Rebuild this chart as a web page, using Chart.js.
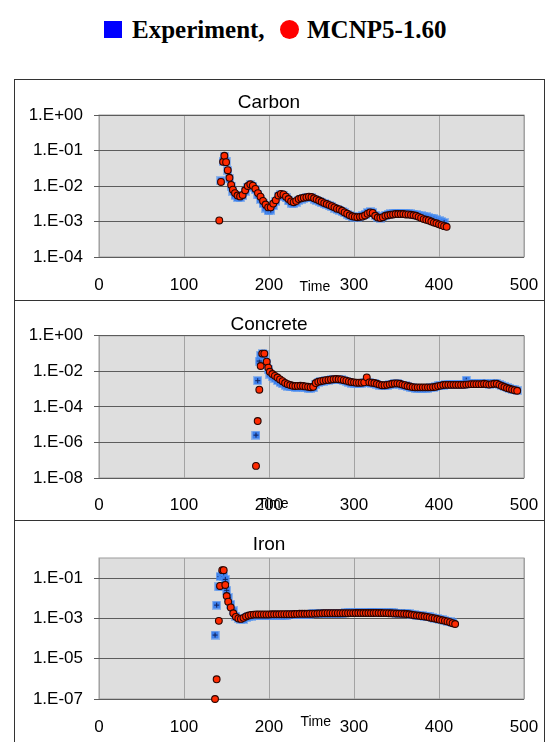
<!DOCTYPE html>
<html>
<head>
<meta charset="utf-8">
<script src="https://cdn.jsdelivr.net/npm/chart.js@4.4.1/dist/chart.umd.min.js"></script>
<style>
    body { margin: 0; width: 549px; height: 742px; background: #fff; overflow: hidden; position: relative; }
    .legend-text { position: absolute; font: bold 25px "Liberation Serif", "Times New Roman", serif; line-height: 25px; color: #000; white-space: nowrap; }
    .panel { position: absolute; left: 14px; width: 531px; border: 1px solid #333; box-sizing: border-box; }
    canvas { position: absolute; left: 14px; }
</style>
</head>
<body>
<div style="position:absolute;left:104px;top:21px;width:18px;height:17px;background:#0000ff"></div>
<div class="legend-text" style="left:132px;top:17px">Experiment,</div>
<div style="position:absolute;left:280px;top:20px;width:19px;height:19px;border-radius:50%;background:#ff0000"></div>
<div class="legend-text" style="left:307px;top:17px">MCNP5-1.60</div>

<div class="panel" style="top:79px;height:222px"></div>
<div class="panel" style="top:300px;height:221px"></div>
<div class="panel" style="top:520px;height:240px"></div>

<canvas id="carbon" width="531" height="221" style="top:79px"></canvas>
<canvas id="concrete" width="531" height="220" style="top:300px"></canvas>
<canvas id="iron" width="531" height="222" style="top:520px"></canvas>

<script>
const FONT = '"Liberation Sans", Arial, sans-serif';

// ---- Carbon ----
const carbonTime = [141.5, 143.5, 146, 147.5, 149.5, 151.5, 153.5, 155.5, 157.5,
    160, 163, 166, 169, 172, 175, 178, 181, 184, 187,
    190, 193, 196, 199, 202, 205, 208, 211, 214, 217,
    220, 223, 226, 229, 232, 235, 238, 241, 244, 247,
    250, 253, 256, 259, 262, 265, 268, 271, 274, 277,
    280, 283, 286, 289, 292, 295, 298, 301, 304, 307,
    310, 313, 316, 319, 322, 325, 328, 331, 334, 337,
    340, 343, 346, 349, 352, 355, 358, 361, 364, 367,
    370, 373, 376, 379, 382, 385, 388, 391, 394, 397,
    400, 403, 406, 409];
const carbonMcnp = [1.07e-3, 1.3e-2, 4.8e-2, 7.1e-2, 4.7e-2, 2.8e-2, 1.7e-2, 1.07e-2, 7.9e-3,
    6.3e-3, 5.4e-3, 5.1e-3, 5.6e-3, 7.6e-3, 1.0e-2, 1.12e-2, 1.02e-2, 8.3e-3, 6.3e-3,
    5.0e-3, 3.8e-3, 3.0e-3, 2.5e-3, 2.5e-3, 3.2e-3, 4.0e-3, 5.4e-3, 6.0e-3, 5.8e-3,
    5.0e-3, 4.3e-3, 3.7e-3, 3.5e-3, 3.8e-3, 4.3e-3, 4.5e-3, 4.7e-3, 4.8e-3, 5.0e-3,
    4.9e-3, 4.5e-3, 4.2e-3, 3.9e-3, 3.6e-3, 3.3e-3, 3.1e-3, 2.9e-3, 2.7e-3, 2.5e-3,
    2.3e-3, 2.2e-3, 2.0e-3, 1.8e-3, 1.66e-3, 1.5e-3, 1.4e-3, 1.35e-3, 1.32e-3, 1.35e-3,
    1.38e-3, 1.48e-3, 1.66e-3, 1.8e-3, 1.74e-3, 1.45e-3, 1.29e-3, 1.26e-3, 1.32e-3, 1.45e-3,
    1.5e-3, 1.55e-3, 1.58e-3, 1.62e-3, 1.62e-3, 1.62e-3, 1.62e-3, 1.58e-3, 1.58e-3, 1.55e-3,
    1.5e-3, 1.45e-3, 1.35e-3, 1.26e-3, 1.17e-3, 1.12e-3, 1.07e-3, 1.0e-3, 9.3e-4, 8.9e-4,
    8.3e-4, 7.9e-4, 7.4e-4, 7.1e-4];
const carbonExp = [null, 1.4e-2, 5.0e-2, 6.6e-2, 5.0e-2, 2.8e-2, 1.6e-2, 1.0e-2, 7.1e-3,
    5.5e-3, 4.7e-3, 4.7e-3, 5.4e-3, 7.1e-3, 9.3e-3, 1.07e-2, 1.0e-2, 7.9e-3, 5.6e-3,
    4.2e-3, 3.2e-3, 2.4e-3, 2.0e-3, 2.1e-3, 2.8e-3, 3.7e-3, 5.0e-3, 5.6e-3, 5.4e-3,
    4.6e-3, 3.8e-3, 3.3e-3, 3.2e-3, 3.5e-3, 4.0e-3, 4.3e-3, 4.5e-3, 4.6e-3, 4.8e-3,
    4.7e-3, 4.3e-3, 4.0e-3, 3.7e-3, 3.4e-3, 3.2e-3, 3.0e-3, 2.8e-3, 2.6e-3, 2.4e-3,
    2.2e-3, 2.1e-3, 1.9e-3, 1.75e-3, 1.6e-3, 1.45e-3, 1.35e-3, 1.3e-3, 1.3e-3, 1.35e-3,
    1.45e-3, 1.6e-3, 1.8e-3, 1.9e-3, 1.8e-3, 1.5e-3, 1.3e-3, 1.25e-3, 1.35e-3, 1.5e-3,
    1.6e-3, 1.65e-3, 1.7e-3, 1.72e-3, 1.72e-3, 1.72e-3, 1.7e-3, 1.7e-3, 1.68e-3, 1.65e-3,
    1.62e-3, 1.58e-3, 1.5e-3, 1.45e-3, 1.4e-3, 1.35e-3, 1.3e-3, 1.25e-3, 1.2e-3, 1.12e-3,
    1.05e-3, 1.0e-3, 9.3e-4, null];
const carbonTicks = [1e-4, 1e-3, 1e-2, 1e-1, 1];

// ---- Concrete ----
const concreteTime = [184.7, 186.7, 188.6, 190.2, 192, 194.5, 197.3, 199.2, 201,
    204, 207, 210, 213, 216, 219, 222, 225, 228, 231,
    234, 237, 240, 243, 246, 249, 252, 255, 258, 261,
    264, 267, 270, 273, 276, 279, 282, 285, 288, 291,
    294, 297, 300, 303, 306, 309, 312, 315, 318, 321,
    324, 327, 330, 333, 336, 339, 342, 345, 348, 351,
    354, 357, 360, 363, 366, 369, 372, 375, 378, 381,
    384, 387, 390, 393, 396, 399, 402, 405, 408, 411,
    414, 417, 420, 423, 426, 429, 432, 435, 438, 441,
    444, 447, 450, 453, 456, 459, 462, 465, 468, 471,
    474, 477, 480, 483, 486, 489, 492];
const concreteMcnp = [4.8e-8, 1.6e-5, 9.3e-4, 2.0e-2, 1.0e-1, 1.0e-1, 3.5e-2, 1.6e-2, 9.5e-3,
    7.1e-3, 5.6e-3, 4.5e-3, 3.5e-3, 2.8e-3, 2.2e-3, 1.9e-3, 1.7e-3, 1.55e-3, 1.5e-3,
    1.52e-3, 1.55e-3, 1.5e-3, 1.42e-3, 1.35e-3, 1.28e-3, 1.35e-3, 2.2e-3, 2.6e-3, 2.8e-3,
    3.0e-3, 3.2e-3, 3.3e-3, 3.5e-3, 3.6e-3, 3.7e-3, 3.6e-3, 3.5e-3, 3.2e-3, 3.0e-3,
    2.7e-3, 2.5e-3, 2.4e-3, 2.3e-3, 2.3e-3, 2.3e-3, 2.4e-3, 4.6e-3, 2.4e-3, 2.3e-3,
    2.2e-3, 2.0e-3, 1.8e-3, 1.66e-3, 1.66e-3, 1.74e-3, 1.86e-3, 2.0e-3, 2.1e-3, 2.1e-3,
    2.0e-3, 1.8e-3, 1.66e-3, 1.5e-3, 1.4e-3, 1.3e-3, 1.26e-3, 1.26e-3, 1.26e-3, 1.26e-3,
    1.26e-3, 1.26e-3, 1.26e-3, 1.3e-3, 1.35e-3, 1.48e-3, 1.58e-3, 1.7e-3, 1.74e-3, 1.74e-3,
    1.74e-3, 1.74e-3, 1.74e-3, 1.74e-3, 1.74e-3, 1.74e-3, 1.8e-3, 1.86e-3, 1.9e-3, 1.9e-3,
    1.9e-3, 1.9e-3, 1.9e-3, 2.0e-3, 1.9e-3, 1.8e-3, 1.9e-3, 2.0e-3, 2.0e-3, 1.74e-3,
    1.5e-3, 1.32e-3, 1.15e-3, 1.05e-3, 9.5e-4, 8.7e-4, 8.1e-4];
const concreteExp = [2.6e-6, 3.0e-3, 3.8e-2, 8.0e-2, 1.0e-1, 8.5e-2, 2.8e-2, 1.2e-2, 7.0e-3,
    5.0e-3, 4.0e-3, 3.0e-3, 2.4e-3, 2.0e-3, 1.66e-3, 1.48e-3, 1.38e-3, 1.32e-3, 1.28e-3,
    1.3e-3, 1.35e-3, 1.3e-3, 1.22e-3, 1.15e-3, 1.1e-3, 1.2e-3, 1.9e-3, 2.4e-3, 2.6e-3,
    2.8e-3, 3.0e-3, 3.1e-3, 3.3e-3, 3.4e-3, 3.5e-3, 3.4e-3, 3.3e-3, 3.0e-3, 2.7e-3,
    2.4e-3, 2.2e-3, 2.1e-3, 2.1e-3, 2.1e-3, 2.2e-3, 2.3e-3, 2.3e-3, 2.3e-3, 2.2e-3,
    2.1e-3, 1.9e-3, 1.7e-3, 1.55e-3, 1.55e-3, 1.65e-3, 1.8e-3, 1.9e-3, 2.0e-3, 2.0e-3,
    1.9e-3, 1.7e-3, 1.55e-3, 1.4e-3, 1.3e-3, 1.2e-3, 1.15e-3, 1.12e-3, 1.12e-3, 1.12e-3,
    1.12e-3, 1.15e-3, 1.2e-3, 1.25e-3, 1.35e-3, 1.5e-3, 1.6e-3, 1.7e-3, 1.75e-3, 1.75e-3,
    1.75e-3, 1.8e-3, 1.8e-3, 1.8e-3, 1.8e-3, 1.9e-3, 3.2e-3, 2.1e-3, 1.95e-3, 1.95e-3,
    1.95e-3, 1.95e-3, 1.95e-3, 2.0e-3, 1.95e-3, 1.9e-3, 2.0e-3, 2.1e-3, 2.1e-3, 1.85e-3,
    1.6e-3, 1.4e-3, 1.22e-3, 1.1e-3, 1.0e-3, 9.2e-4, 8.5e-4];
const concreteTicks = [1e-8, 1e-6, 1e-4, 1e-2, 1];

// ---- Iron ----
const ironTime = [136.5, 138.4, 141, 142.4, 145, 146.7, 148.6, 150.2, 152, 155, 158,
    161, 164, 167, 170, 173, 176, 179, 182, 185, 188,
    191, 194, 197, 200, 203, 206, 209, 212, 215, 218,
    221, 224, 227, 230, 233, 236, 239, 242, 245, 248,
    251, 254, 257, 260, 263, 266, 269, 272, 275, 278,
    281, 284, 287, 290, 293, 296, 299, 302, 305, 308,
    311, 314, 317, 320, 323, 326, 329, 332, 335, 338,
    341, 344, 347, 350, 353, 356, 359, 362, 365, 368,
    371, 374, 377, 380, 383, 386, 389, 392, 395, 398,
    401, 404, 407, 410, 413, 416, 419];
const ironMcnp = [1.0e-7, 9.5e-7, 7.6e-4, 4.1e-2, 2.5e-1, 2.5e-1, 4.6e-2, 1.3e-2, 6.8e-3, 3.5e-3, 1.8e-3,
    1.2e-3, 1.0e-3, 9.5e-4, 1.07e-3, 1.26e-3, 1.4e-3, 1.5e-3, 1.55e-3, 1.58e-3, 1.58e-3,
    1.58e-3, 1.58e-3, 1.58e-3, 1.58e-3, 1.6e-3, 1.6e-3, 1.6e-3, 1.6e-3, 1.62e-3, 1.62e-3,
    1.62e-3, 1.62e-3, 1.62e-3, 1.65e-3, 1.68e-3, 1.7e-3, 1.7e-3, 1.7e-3, 1.7e-3, 1.72e-3,
    1.72e-3, 1.74e-3, 1.76e-3, 1.78e-3, 1.8e-3, 1.82e-3, 1.82e-3, 1.82e-3, 1.82e-3, 1.82e-3,
    1.82e-3, 1.82e-3, 1.82e-3, 1.82e-3, 1.82e-3, 1.84e-3, 1.84e-3, 1.86e-3, 1.86e-3, 1.86e-3,
    1.86e-3, 1.86e-3, 1.86e-3, 1.86e-3, 1.86e-3, 1.88e-3, 1.86e-3, 1.86e-3, 1.84e-3, 1.84e-3,
    1.82e-3, 1.8e-3, 1.78e-3, 1.76e-3, 1.74e-3, 1.72e-3, 1.7e-3, 1.66e-3, 1.6e-3, 1.52e-3,
    1.45e-3, 1.4e-3, 1.35e-3, 1.3e-3, 1.25e-3, 1.2e-3, 1.12e-3, 1.05e-3, 1.0e-3, 9.3e-4,
    8.7e-4, 8.1e-4, 7.6e-4, 7.1e-4, 6.5e-4, 5.8e-4, 5.3e-4];
const ironExp = [1.5e-4, 4.6e-3, 3.7e-2, 1.2e-1, 1.4e-1, 1.2e-1, 8.7e-2, 2.5e-2, 1.1e-2, 5.0e-3, 2.4e-3,
    1.3e-3, 1.0e-3, 9.0e-4, 9.0e-4, 1.1e-3, 1.25e-3, 1.3e-3, 1.35e-3, 1.4e-3, 1.4e-3,
    1.4e-3, 1.4e-3, 1.4e-3, 1.4e-3, 1.42e-3, 1.42e-3, 1.42e-3, 1.45e-3, 1.45e-3, 1.45e-3,
    1.45e-3, 1.48e-3, 1.5e-3, 1.52e-3, 1.55e-3, 1.58e-3, 1.6e-3, 1.62e-3, 1.62e-3, 1.65e-3,
    1.68e-3, 1.7e-3, 1.72e-3, 1.75e-3, 1.75e-3, 1.78e-3, 1.78e-3, 1.8e-3, 1.8e-3, 1.8e-3,
    1.82e-3, 1.82e-3, 1.84e-3, 1.86e-3, 1.88e-3, 1.9e-3, 1.9e-3, 1.92e-3, 1.92e-3, 1.95e-3,
    1.95e-3, 1.98e-3, 2.0e-3, 2.05e-3, 2.05e-3, 2.05e-3, 2.0e-3, 1.98e-3, 1.95e-3, 1.92e-3,
    1.9e-3, 1.88e-3, 1.86e-3, 1.84e-3, 1.82e-3, 1.8e-3, 1.78e-3, 1.74e-3, 1.68e-3, 1.6e-3,
    1.52e-3, 1.46e-3, 1.4e-3, 1.35e-3, 1.3e-3, 1.25e-3, 1.18e-3, 1.1e-3, 1.05e-3, 9.8e-4,
    9.2e-4, 8.6e-4, 8.0e-4, 7.4e-4, 6.8e-4, 6.2e-4, null];
const ironTicks = [1e-7, 1e-5, 1e-3, 1e-1];

const timeTicks = [0, 100, 200, 300, 400, 500];

// grey plot area with its frame, drawn before grid lines
const plotFrame = {
    id: 'plotFrame',
    beforeDraw (chart) {
        const { ctx, chartArea: a } = chart;
        ctx.save();
        ctx.fillStyle = '#dedede';
        ctx.fillRect(a.left, a.top, a.width, a.height);
        ctx.strokeStyle = '#9c9c9c';
        ctx.lineWidth = 1;
        ctx.strokeRect(a.left, a.top, a.width, a.height);
        ctx.restore();
    }
};

// the little "Time" caption sits on the tick label row
const timeLabel = {
    id: 'timeLabel',
    afterDraw (chart, args, opts) {
        const { ctx, chartArea, scales } = chart;
        ctx.save();
        ctx.font = '14px ' + FONT;
        ctx.fillStyle = '#000';
        ctx.textAlign = 'center';
        ctx.textBaseline = 'middle';
        ctx.fillText('Time', scales.x.getPixelForValue(opts.at), chartArea.bottom + opts.dy);
        ctx.restore();
    }
};

function plusSquare () {
    const c = document.createElement('canvas');
    c.width = 9;
    c.height = 9;
    const g = c.getContext('2d');
    g.fillStyle = 'rgba(80,145,240,0.55)';
    g.fillRect(0, 0, 9, 9);
    g.fillStyle = '#3d80ec';
    g.fillRect(1, 1, 7, 7);
    g.fillStyle = '#0e1f5a';
    g.fillRect(4, 2, 1, 5);
    g.fillRect(2, 4, 5, 1);
    return c;
};
const expMarker = plusSquare();

function sci (v) {
    const e = Math.round(Math.log10(v));
    return '1.E' + (e < 0 ? '-' : '+') + String(Math.abs(e)).padStart(2, '0');
};

function points (times, values) {
    return times.map((t, i) => ({ x: t, y: values[i] }));
};

function makeChart (id, o) {
    return new Chart(document.getElementById(id), {
        type: 'scatter',
        data: {
            datasets: [{
                label: 'MCNP5-1.60',
                data: points(o.time, o.mcnp),
                pointStyle: 'circle',
                pointRadius: 3.4,
                pointBackgroundColor: '#ff2a00',
                pointBorderColor: '#2a0400',
                pointBorderWidth: 1.1,
                clip: false
            }, {
                label: 'Experiment',
                data: points(o.time, o.exp),
                pointStyle: expMarker,
                pointRadius: 4.5,
                clip: false
            }]
        },
        options: {
            responsive: false,
            animation: false,
            devicePixelRatio: 1,
            events: [],
            layout: { padding: { left: 0, right: 21, top: 0, bottom: 0 } },
            plugins: {
                legend: { display: false },
                tooltip: { enabled: false },
                title: {
                    display: true,
                    text: o.title,
                    color: '#000',
                    font: { family: FONT, size: 19, weight: 'normal' },
                    padding: o.titlePad
                },
                timeLabel: o.timeLabel
            },
            scales: {
                x: {
                    type: 'linear',
                    min: 0,
                    max: 500,
                    afterBuildTicks: s => { s.ticks = timeTicks.map(v => ({ value: v })); },
                    ticks: { padding: 0, color: '#000', font: { family: FONT, size: 17 }, maxRotation: 0, autoSkip: false },
                    // invisible tick marks push the labels down without widening the side padding
                    grid: { color: '#a3a3a3', tickLength: o.xPad, tickColor: 'rgba(0,0,0,0)' },
                    border: { display: false },
                    afterFit: s => { s.height = o.xHeight; }
                },
                y: {
                    type: 'logarithmic',
                    min: o.yMin,
                    max: o.yMax,
                    afterBuildTicks: s => { s.ticks = o.yTicks.map(v => ({ value: v })); },
                    ticks: { callback: v => sci(v), padding: 11, color: '#000', font: { family: FONT, size: 17 }, autoSkip: false },
                    grid: { color: '#5c5c5c', tickLength: 5 },
                    border: { display: false },
                    afterFit: s => { s.width = 85; }
                }
            }
        },
        plugins: [plotFrame, timeLabel]
    });
};

makeChart('carbon', {
    title: 'Carbon', time: carbonTime, mcnp: carbonMcnp, exp: carbonExp,
    yMin: 1e-4, yMax: 1, yTicks: carbonTicks,
    titlePad: { top: 12.6, bottom: 0.6 }, xHeight: 43, xPad: 18,
    timeLabel: { at: 254, dy: 30 }
});
makeChart('concrete', {
    title: 'Concrete', time: concreteTime, mcnp: concreteMcnp, exp: concreteExp,
    yMin: 1e-8, yMax: 1, yTicks: concreteTicks,
    titlePad: { top: 13, bottom: 0 }, xHeight: 42, xPad: 17,
    timeLabel: { at: 205, dy: 26 }
});
makeChart('iron', {
    title: 'Iron', time: ironTime, mcnp: ironMcnp, exp: ironExp,
    yMin: 1e-7, yMax: 1, yTicks: ironTicks,
    titlePad: { top: 13.6, bottom: 1.6 }, xHeight: 43, xPad: 18,
    timeLabel: { at: 255, dy: 23 }
});
</script>
</body>
</html>
